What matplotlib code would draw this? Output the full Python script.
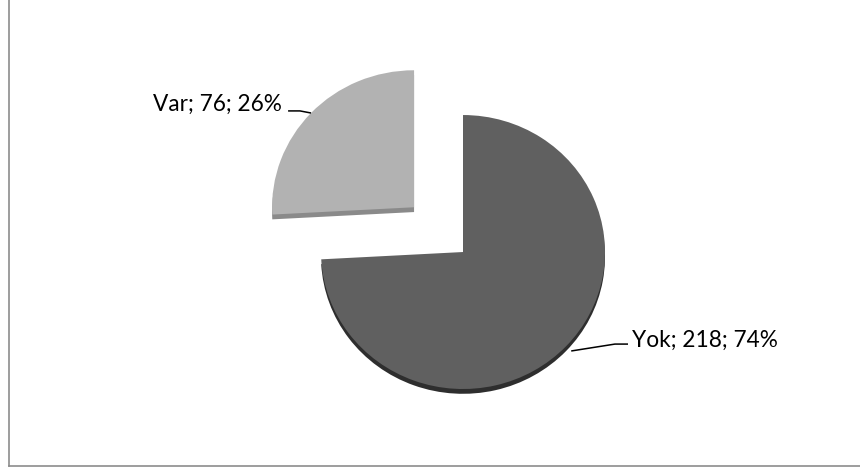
import numpy as np
import matplotlib.pyplot as plt

labels = ["Yok", "Var"]
counts = [218, 76]
explode = [0.0, 0.475]
top_colors = ["#606060", "#b2b2b2"]
side_colors = ["#2e2e2e", "#8a8a8a"]

total = sum(counts)
pcts = [round(100 * c / total) for c in counts]

fig = plt.figure(figsize=(8.6, 4.77), dpi=100)
ax = fig.add_axes([0, 0, 1, 1])

# side of the 3D pie: same pie shifted down a bit, darker
ax.pie(counts, explode=explode, startangle=90, counterclock=False,
       colors=side_colors, center=(0, -0.035),
       wedgeprops=dict(linewidth=0))
wedges, _ = ax.pie(counts, explode=explode, startangle=90, counterclock=False,
                   colors=top_colors, wedgeprops=dict(linewidth=0))

ax.set_aspect("auto")
ax.set_xlim(-3.261, 2.796)
ax.set_ylim(-1.635, 1.847)
ax.axis("off")

# data labels with leader lines: (elbow x, line y, line end x, text x, text y, align)
lbl_pos = {"Var": (-1.148, 1.03, -1.232, -1.275, 1.036, "right"),
           "Yok": (1.07, -0.672, 1.162, 1.19, -0.686, "left")}
for w, name, c, p in zip(wedges, labels, counts, pcts):
    mid = np.deg2rad((w.theta1 + w.theta2) / 2)
    cx, cy = w.center
    r = 1.0 if name == "Var" else 1.05
    sx, sy = cx + r * np.cos(mid), cy + r * np.sin(mid)
    ex, ly, lx, tx, ty, ha = lbl_pos[name]
    ax.plot([sx, ex, lx], [sy, ly, ly], color="black", lw=1.1,
            solid_capstyle="butt")
    ax.text(tx, ty, f"{name}; {c}; {p}%", ha=ha, va="baseline",
            fontsize=16.3, family="Lato", color="black")

# chart border (left and bottom visible)
fig.add_artist(plt.Line2D([8.5 / 860, 8.5 / 860], [10 / 477, 1.0],
                          transform=fig.transFigure, color="#8c8c8c", lw=1.2))
fig.add_artist(plt.Line2D([8.5 / 860, 1.0], [10 / 477, 10 / 477],
                          transform=fig.transFigure, color="#8c8c8c", lw=1.2))

fig.savefig("out.png", dpi=100, facecolor="white")
